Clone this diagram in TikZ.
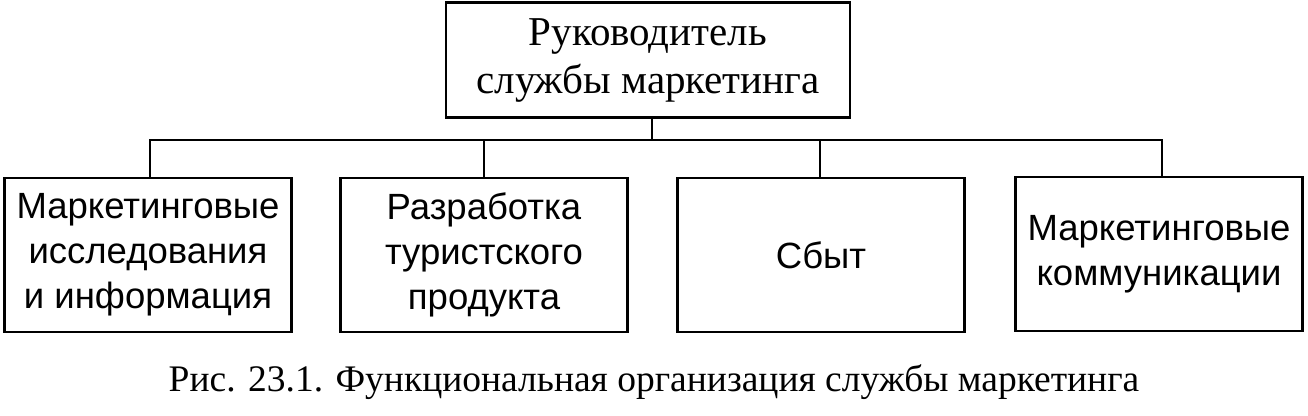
\documentclass[tikz,border=0pt]{standalone}
\usepackage{fontspec}
\setmainfont{Liberation Serif}
\newfontfamily\boxsans{Liberation Sans}
\begin{document}
\begin{tikzpicture}[x=1pt,y=-1pt,
  bx/.style={draw,line width=2.2pt,inner sep=0pt,align=center},
  ln/.style={line width=2pt}]
\useasboundingbox (0,0) rectangle (1308,415);
\node[bx,minimum width=404pt,minimum height=115pt,font=\fontsize{41}{48}\selectfont] (top) at (648,60) {Руководитель\\службы маркетинга};
\begin{scope}[every node/.style={bx,minimum width=287pt,minimum height=154pt,font=\boxsans\fontsize{36.5}{45}\selectfont}]
\node (a) at (148,255) {Маркетинговые\\исследования\\и информация};
\node (b) at (484,255) {Разработка\\туристского\\продукта};
\node (c) at (821,255) {Сбыт};
\node (d) at (1159,254) {Маркетинговые\\коммуникации};
\end{scope}
\coordinate (j) at (652,140);
\draw[ln] (top.south -| j) -- (j);
\draw[ln] (a.north -| 150,0) |- (j) -| (d.north -| 1162,0);
\draw[ln] (b.north -| 484,0) -- (484,140);
\draw[ln] (c.north -| 820,0) -- (820,140);
\node[font=\fontsize{37.5}{42}\selectfont] (cap) at (654,382) {Рис. 23.1. Функциональная организация службы маркетинга};
\end{tikzpicture}
\end{document}
